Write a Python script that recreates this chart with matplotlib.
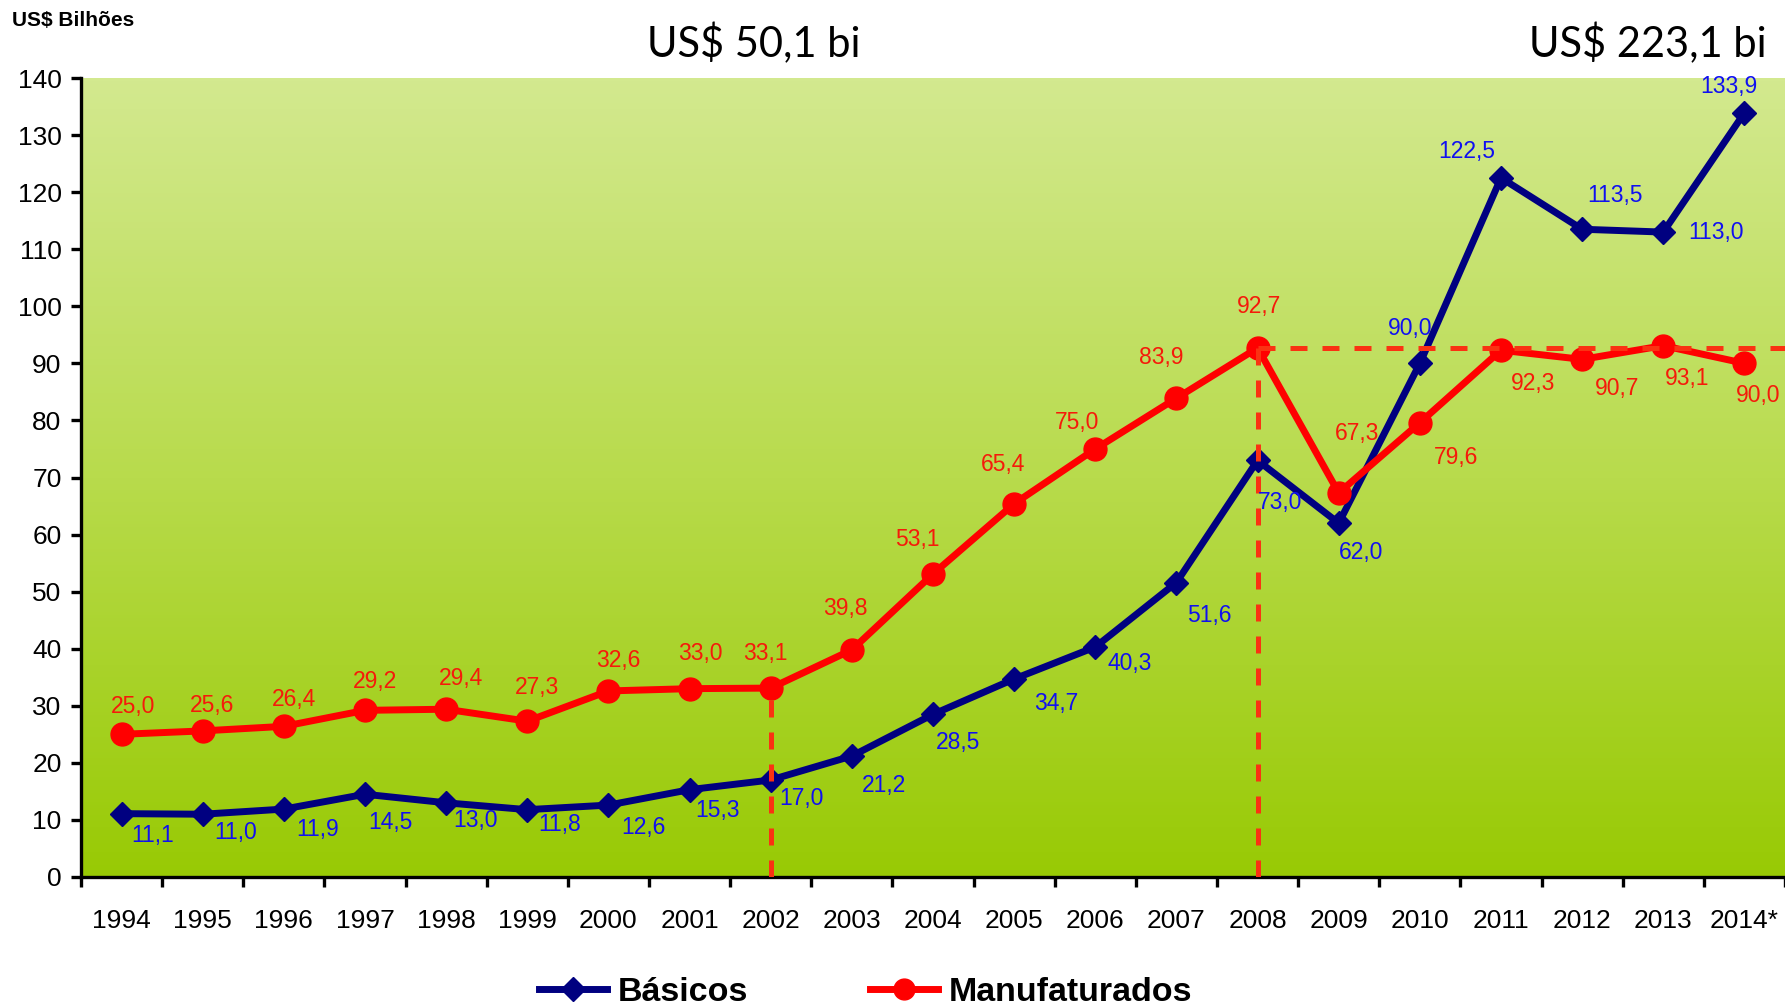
import matplotlib
matplotlib.use('Agg')
import matplotlib.pyplot as plt
import numpy as np
from matplotlib.lines import Line2D
from matplotlib.colors import LinearSegmentedColormap

# ---------------- data ----------------
years = ['1994', '1995', '1996', '1997', '1998', '1999', '2000', '2001', '2002',
         '2003', '2004', '2005', '2006', '2007', '2008', '2009', '2010', '2011',
         '2012', '2013', '2014*']
basicos = [11.1, 11.0, 11.9, 14.5, 13.0, 11.8, 12.6, 15.3, 17.0, 21.2, 28.5,
           34.7, 40.3, 51.6, 73.0, 62.0, 90.0, 122.5, 113.5, 113.0, 133.9]
manufaturados = [25.0, 25.6, 26.4, 29.2, 29.4, 27.3, 32.6, 33.0, 33.1, 39.8,
                 53.1, 65.4, 75.0, 83.9, 92.7, 67.3, 79.6, 92.3, 90.7, 93.1, 90.0]
y_ticks = list(range(0, 141, 10))
series_names = ['Básicos', 'Manufaturados']
unit_label = 'US$ Bilhões'
total_2002 = 'US$ 50,1 bi'
total_2014 = 'US$ 223,1 bi'

# label offsets (points) relative to each marker
off_b = [(22, -16), (24, -13), (24, -15), (18, -20), (21, -13), (23, -11), (25, -16),
         (20, -15), (22, -13), (23, -21), (18, -20), (30, -18), (25, -12), (24, -24),
         (16, -30), (16, -21), (-7, 25), (-25, 19), (24, 24), (38, 0), (-11, 19)]
off_m = [(8, 20), (7, 18), (7, 19), (7, 21), (11, 22), (7, 24), (7, 22), (8, 25),
         (-4, 25), (-5, 30), (-11, 25), (-8, 28), (-13, 19), (-11, 29), (1, 30),
         (13, 43), (26, -25), (23, -24), (25, -21), (17, -24), (10, -23)]

def fmt(v):
    return f'{v:.1f}'.replace('.', ',')

plt.rcParams['font.family'] = ['Liberation Sans', 'DejaVu Sans']

W, H = 1785, 1008
fig = plt.figure(figsize=(W / 100, H / 100), dpi=100)
L, R, T, B = 81, 1785, 78, 877
ax = fig.add_axes([L / W, 1 - B / H, (R - L) / W, (B - T) / H])

x = np.arange(len(years))
ax.set_xlim(-0.5, len(years) - 0.5)
ax.set_ylim(0, 140)

# gradient background
grad = np.linspace(0, 1, 256).reshape(-1, 1)
cmap = LinearSegmentedColormap.from_list('g', ['#98CA04', '#B8DB4C', '#D3E98F'])
ax.imshow(grad, extent=[-0.5, len(years) - 0.5, 0, 140], origin='lower',
          aspect='auto', cmap=cmap, zorder=0)

ax.plot(x, basicos, color='#000080', lw=5, marker='D', ms=12.5, zorder=3,
        solid_joinstyle='round')
ax.plot(x, manufaturados, color='#FF0000', lw=5, marker='o', ms=16.5, zorder=4,
        solid_joinstyle='round')

# dashed reference lines
i02 = years.index('2002')
i08 = years.index('2008')
dash_kw = dict(color='#FA3212', lw=3.6, dashes=(3.4, 3.0), zorder=5)
ax.plot([x[i02], x[i02]], [0, manufaturados[i02]], **dash_kw)
ax.plot([x[i08], x[i08]], [0, manufaturados[i08]], **dash_kw)
ax.plot([x[i08], len(years) - 0.5], [manufaturados[i08], manufaturados[i08]], **dash_kw)

# data labels
for xi, v, o in zip(x, basicos, off_b):
    ax.annotate(fmt(v), (xi, v), xytext=o, textcoords='offset points',
                ha='center', va='center', fontsize=16.5, color='#1010F0', zorder=6)
for xi, v, o in zip(x, manufaturados, off_m):
    ax.annotate(fmt(v), (xi, v), xytext=o, textcoords='offset points',
                ha='center', va='center', fontsize=16.5, color='#F51A0A', zorder=6)

# axes styling
for s in ['top', 'right']:
    ax.spines[s].set_visible(False)
for s in ['left', 'bottom']:
    ax.spines[s].set_linewidth(2.4)
ax.set_yticks(y_ticks)
ax.tick_params(axis='y', length=7, width=2.4, pad=7, labelsize=19)
ax.set_xticks(x)
ax.set_xticklabels(years)
ax.tick_params(axis='x', which='major', length=0, pad=23, labelsize=19)
ax.set_xticks(np.arange(-0.5, len(years)), minor=True)
ax.tick_params(axis='x', which='minor', length=7, width=2.4)

# texts
fig.text(12 / W, 1 - 20 / H, unit_label, fontsize=15, fontweight='bold',
         ha='left', va='center')
fig.text(754 / W, 1 - 44 / H, total_2002, fontsize=30, family=['Lato', 'DejaVu Sans'],
         ha='center', va='center')
fig.text(1767 / W, 1 - 44 / H, total_2014, fontsize=30, family=['Lato', 'DejaVu Sans'],
         ha='right', va='center')

handles = [Line2D([], [], color='#000080', lw=5, marker='D', ms=12),
           Line2D([], [], color='#FF0000', lw=5, marker='o', ms=15)]
fig.legend(handles, series_names, loc='center', bbox_to_anchor=(0.485, 0.015),
           ncol=2, frameon=False, columnspacing=3.6, handlelength=2.0,
           handletextpad=0.3,
           prop={'family': ['Liberation Sans'], 'weight': 'bold', 'size': 24.5})

fig.savefig('out.png', dpi=100)
